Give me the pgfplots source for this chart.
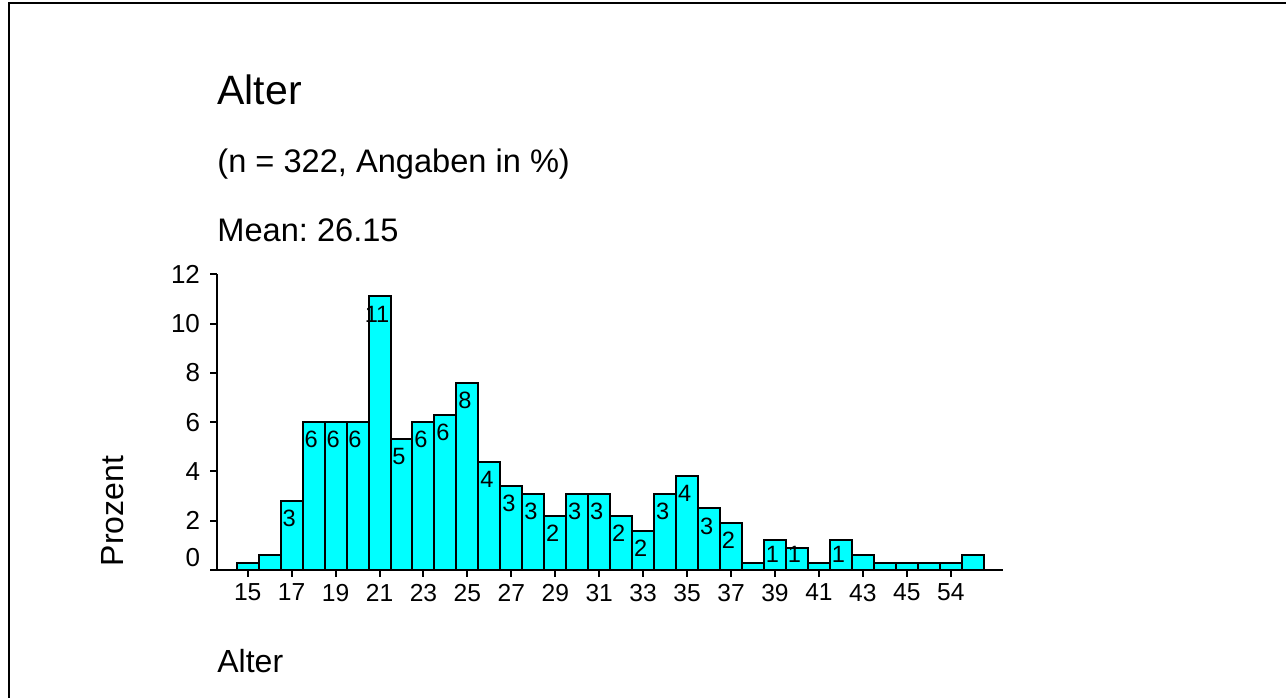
\documentclass[border=0pt]{standalone}
\usepackage{fontspec}
\setmainfont{Liberation Sans}
\usepackage{pgfplots}
\usepackage{pgfplotstable}
\pgfplotsset{compat=1.18}
\definecolor{aqua}{RGB}{0,255,255}
\frenchspacing
\pgfplotstableread{
x y lab
0 0.3 {}
1 0.6 {}
2 2.8 3
3 6.0 6
4 6.0 6
5 6.0 6
6 11.1 11
7 5.3 5
8 6.0 6
9 6.3 6
10 7.6 8
11 4.4 4
12 3.4 3
13 3.1 3
14 2.2 2
15 3.1 3
16 3.1 3
17 2.2 2
18 1.6 2
19 3.1 3
20 3.8 4
21 2.5 3
22 1.9 2
23 0.3 {}
24 1.2 1
25 0.9 1
26 0.3 {}
27 1.2 1
28 0.6 {}
29 0.3 {}
30 0.3 {}
31 0.3 {}
32 0.3 {}
33 0.6 {}
}\agedata
\begin{document}
\frenchspacing
\begin{tikzpicture}
\path[use as bounding box] (0,0) rectangle (643bp,349bp);
\draw[line width=1bp] (4.5bp,0) -- (4.5bp,347.5bp) -- (643bp,347.5bp);
\node[anchor=base west, inner sep=0] at (108.5bp,296.5bp) {\fontsize{20.5bp}{24bp}\selectfont Alter};
\node[anchor=base west, inner sep=0] at (108.5bp,262.5bp) {\fontsize{16.3bp}{19bp}\selectfont (n = 322, Angaben in \%)};
\node[anchor=base west, inner sep=0] at (108.5bp,228bp) {\fontsize{16.3bp}{19bp}\selectfont Mean: 26.15};
\node[anchor=base west, inner sep=0] at (108.5bp,13bp) {\fontsize{16bp}{19bp}\selectfont Alter};
\node[anchor=base, rotate=90, inner sep=0] at (61.5bp,93.5bp) {\fontsize{16bp}{19bp}\selectfont Prozent};
\begin{axis}[
  at={(108.5bp,64bp)}, anchor=south west,
  scale only axis, width=393bp, height=147.85bp,
  xmin=-1.397, xmax=34.378, ymin=0, ymax=12,
  axis lines=left,
  axis line style={-, line width=1bp},
  every tick/.style={black, line width=1bp},
  major tick length=3.5bp,
  tick align=outside,
  xtick={0,2,...,32},
  xticklabels={15,17,19,21,23,25,27,29,31,33,35,37,39,41,43,45,54},
  ytick={0,2,4,6,8,10,12},
  yticklabels={\raisebox{13bp}{0},2,4,6,8,10,12},
  xticklabel style={font=\fontsize{12.3bp}{14bp}\selectfont},
  yticklabel style={font=\fontsize{13bp}{15bp}\selectfont, xshift=-1.5bp},
  clip=false,
]
\addplot[ybar, bar width=1, fill=aqua, draw=black, line width=1bp]
  table[x=x, y=y]{\agedata};
\addplot[only marks, mark=none,
  nodes near coords, point meta=explicit symbolic,
  nodes near coords style={anchor=center, xshift=-1.25bp, inner sep=0,
    font=\fontsize{11.8bp}{13bp}\selectfont}]
  table[x=x, y expr={max(\thisrow{y}-0.71,0.65)}, meta=lab]{\agedata};
\end{axis}
\end{tikzpicture}
\end{document}
